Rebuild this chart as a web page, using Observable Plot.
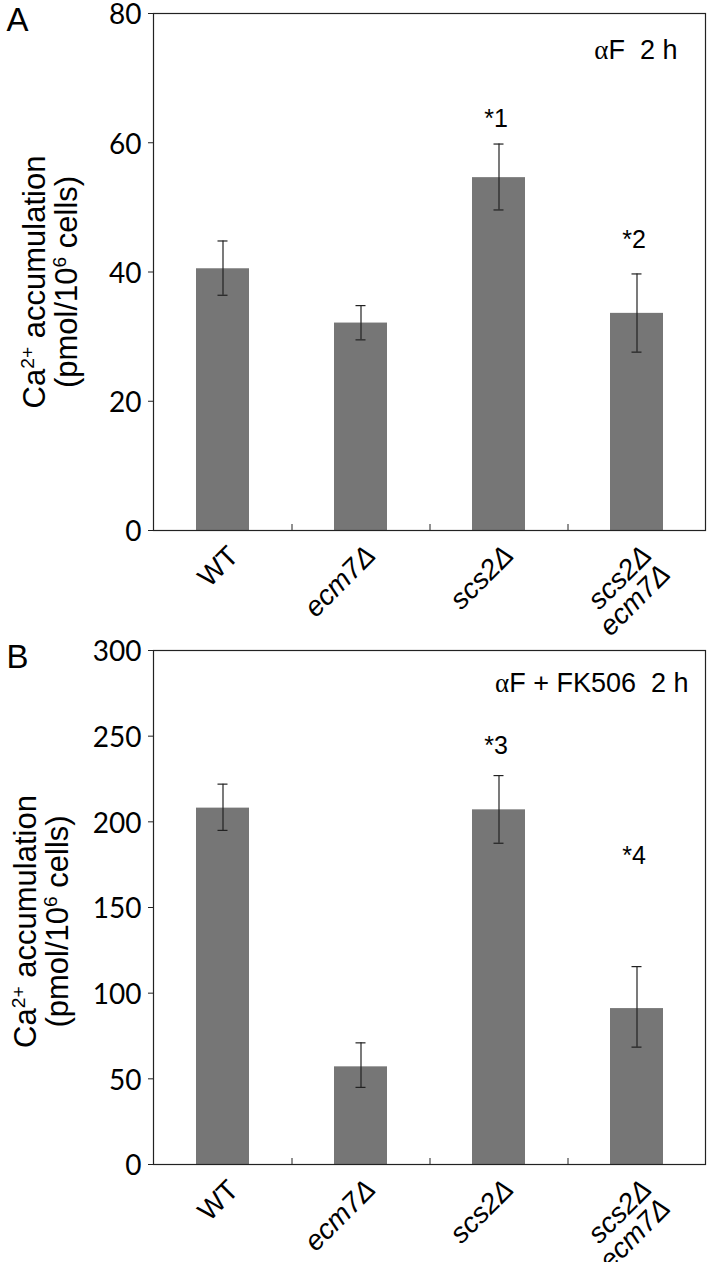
<!DOCTYPE html>
<html>
<head>
<meta charset="utf-8">
<script src="https://cdn.jsdelivr.net/npm/d3@7"></script>
<script src="https://cdn.jsdelivr.net/npm/@observablehq/plot@0.6"></script>
<style>
  html, body { margin: 0; padding: 0; background: #fff; }
  #chart { width: 707px; height: 1262px; overflow: hidden; }
  #chart svg { display: block; }
</style>
</head>
<body>
<div id="chart"></div>
<script>
// ---- Data ----
const strains = ["WT", "ecm7Δ", "scs2Δ", "scs2Δ ecm7Δ"];
const strainLabels = ["WT", "ecm7Δ", "scs2Δ", "scs2Δ\necm7Δ"];

// Panel A: αF 2 h
const meanA = [40.5, 32.1, 54.6, 33.6];
const lowA  = [36.4, 29.5, 49.6, 27.6];
const highA = [44.8, 34.8, 59.8, 39.7];
const ticksA = [0, 20, 40, 60, 80];
const conditionA = "αF\u00a0\u00a02 h";
const sigTextA = ["*1", "*2"];
const sigStrainA = ["scs2Δ", "scs2Δ ecm7Δ"];
const sigLevelA = [63.7, 45];

// Panel B: αF + FK506 2 h
const meanB = [208, 57, 207, 91];
const lowB  = [195, 45, 187.5, 68.5];
const highB = [222, 71, 227, 115.5];
const ticksB = [0, 50, 100, 150, 200, 250, 300];
const conditionB = "αF + FK506\u00a0\u00a02 h";
const sigTextB = ["*3", "*4"];
const sigStrainB = ["scs2Δ", "scs2Δ ecm7Δ"];
const sigLevelB = [244.5, 180];

const yTitle1 = "Ca^{2+} accumulation";
const yTitle2 = "(pmol/10^{6} cells)";

// ---- Helpers ----
function rows(mean, lo, hi) {
  return strains.map((s, i) => ({strain: s, label: strainLabels[i], mean: mean[i], lo: lo[i], hi: hi[i]}));
}
function sig(texts, strainsArr, levels) {
  return texts.map((t, i) => ({text: t, strain: strainsArr[i], level: levels[i]}));
}

const W = 707, ML = 153, MR = 2;
const step = (W - ML - MR) / strains.length;

function panel({letter, data, ticks, domain, condition, sigs, height, marginTop, marginBottom,
                condDx, condDy, titleDx1, titleDx2, titleDy, letterDy}) {
  const plotH = height - marginTop - marginBottom;
  return Plot.plot({
    width: W, height, marginLeft: ML, marginRight: MR, marginTop, marginBottom,
    style: {fontFamily: "'Liberation Sans', Arial, sans-serif", background: "#fff", overflow: "visible", color: "#000"},
    x: {type: "band", domain: strains, paddingInner: 0.616, paddingOuter: 0.308, axis: null},
    y: {domain, axis: null},
    marks: [
      Plot.barY(data, {x: "strain", y: "mean", fill: "#767676"}),
      Plot.ruleX(data, {x: "strain", y1: "lo", y2: "hi", stroke: "#222", strokeWidth: 1.2}),
      Plot.tickY(data, {x: "strain", y: "lo", stroke: "#222", strokeWidth: 1.2, insetLeft: 21.5, insetRight: 21.5}),
      Plot.tickY(data, {x: "strain", y: "hi", stroke: "#222", strokeWidth: 1.2, insetLeft: 21.5, insetRight: 21.5}),
      Plot.frame({stroke: "#222", strokeWidth: 1.2}),
      // small ticks at category boundaries on the bottom axis
      Plot.ruleX(strains.slice(0, -1), {x: d => d, dx: step / 2, insetTop: plotH - 6, stroke: "#222"}),
      // y axis: tick marks, then labels slightly lowered
      Plot.axisY({ticks, tickSize: 5, text: null, label: null, stroke: "#222"}),
      Plot.axisY({ticks, tickSize: 0, tickPadding: 12, fontSize: 28, fontFamily: "Lato, sans-serif", label: null, dy: 2}),
      // x category labels
      Plot.text(data, {filter: d => d.strain === "WT", x: "strain", text: "label", frameAnchor: "bottom",
        dx: 3, dy: 13, rotate: -45, textAnchor: "end", lineAnchor: "top", fontSize: 28}),
      Plot.text(data, {filter: d => d.strain !== "WT", x: "strain", text: "label", frameAnchor: "bottom",
        dx: 3, dy: 13, rotate: -45, textAnchor: "end", lineAnchor: "top", fontSize: 28, fontStyle: "italic", lineHeight: 0.95}),
      // significance labels
      Plot.text(sigs, {x: "strain", y: "level", text: "text", fontSize: 25, lineAnchor: "middle", dx: -3}),
      // condition label
      Plot.text([condition], {frameAnchor: "top-right", dx: condDx, dy: condDy, textAnchor: "end", lineAnchor: "middle", fontSize: 27}),
      // y title (two lines)
      Plot.text([yTitle1], {frameAnchor: "left", dx: titleDx1, dy: titleDy, rotate: -90, textAnchor: "middle", lineAnchor: "middle", fontSize: 31}),
      Plot.text([yTitle2], {frameAnchor: "left", dx: titleDx2, dy: titleDy, rotate: -90, textAnchor: "middle", lineAnchor: "middle", fontSize: 31}),
      // panel letter
      Plot.text([letter], {frameAnchor: "top-left", dx: -ML + 6, dy: letterDy, textAnchor: "start", lineAnchor: "top", fontSize: 33})
    ]
  });
}

// turn "^{..}" into superscripts and give α a serif face
function richify(svg) {
  svg.querySelectorAll("text").forEach(t => {
    if (t.querySelector("tspan")) return;
    const s = t.textContent;
    if (!/[α^]/.test(s)) return;
    const fs = parseFloat(t.getAttribute("font-size") || t.parentNode.getAttribute("font-size") || 30);
    const parts = s.split(/(\^\{[^}]*\}|α)/).filter(p => p !== "");
    t.textContent = "";
    let shifted = 0;
    const NS = "http://www.w3.org/2000/svg";
    parts.forEach(p => {
      const ts = document.createElementNS(NS, "tspan");
      if (p.startsWith("^{")) {
        ts.textContent = p.slice(2, -1);
        ts.setAttribute("font-size", (fs * 0.62).toFixed(1));
        ts.setAttribute("dy", (-fs * 0.38).toFixed(1));
        shifted = fs * 0.38;
      } else {
        ts.textContent = p;
        if (p === "α") ts.setAttribute("font-family", "'Liberation Serif', 'Times New Roman', serif");
        if (shifted) { ts.setAttribute("dy", shifted.toFixed(1)); shifted = 0; }
      }
      t.appendChild(ts);
    });
  });
}

const chart = document.getElementById("chart");

const svgA = panel({
  letter: "A", data: rows(meanA, lowA, highA), ticks: ticksA, domain: [0, 80], condition: conditionA,
  sigs: sig(sigTextA, sigStrainA, sigLevelA), height: 640, marginTop: 13, marginBottom: 110,
  condDx: -28, condDy: 37, titleDx1: -118, titleDx2: -86, titleDy: 10, letterDy: -6
});
const svgB = panel({
  letter: "B", data: rows(meanB, lowB, highB), ticks: ticksB, domain: [0, 300], condition: conditionB,
  sigs: sig(sigTextB, sigStrainB, sigLevelB), height: 622, marginTop: 10, marginBottom: 98,
  condDx: -17, condDy: 33, titleDx1: -127, titleDx2: -95, titleDy: 14, letterDy: -6
});
richify(svgA);
richify(svgB);
chart.appendChild(svgA);
chart.appendChild(svgB);
</script>
</body>
</html>
